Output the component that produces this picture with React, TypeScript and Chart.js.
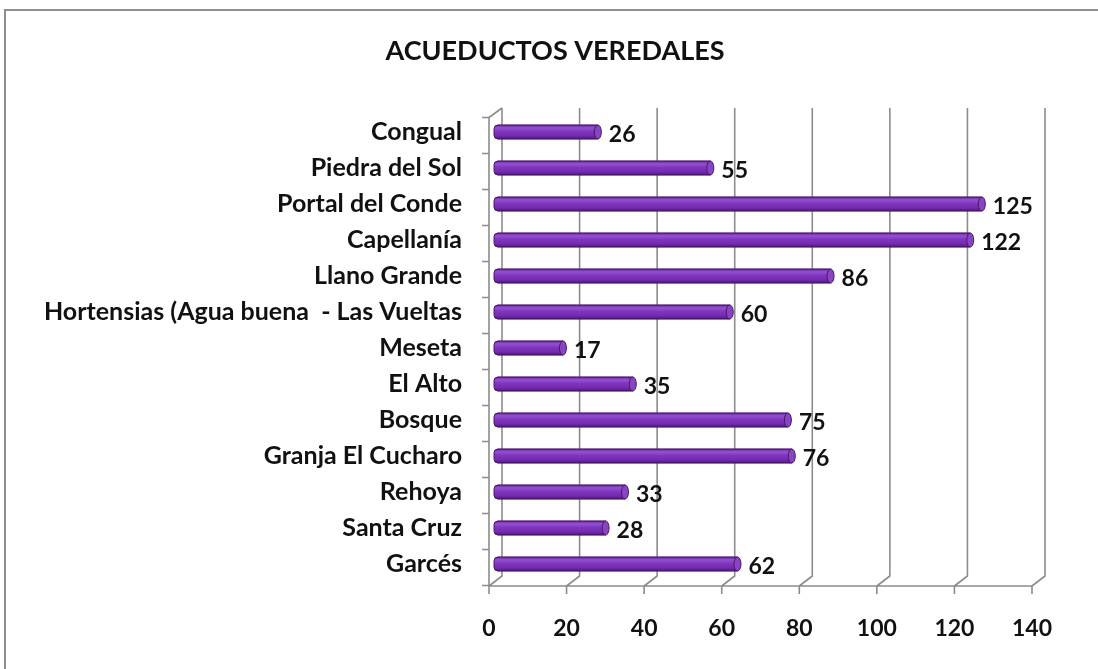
import React, { useEffect, useRef } from 'react';
import { Chart, registerables } from 'chart.js';

Chart.register(...registerables);

const chartTitle = 'ACUEDUCTOS VEREDALES';
const categories = [
  'Congual',
  'Piedra del Sol',
  'Portal del Conde',
  'Capellanía',
  'Llano Grande',
  'Hortensias (Agua buena  - Las Vueltas',
  'Meseta',
  'El Alto',
  'Bosque',
  'Granja El Cucharo',
  'Rehoya',
  'Santa Cruz',
  'Garcés',
];
const values = [26, 55, 125, 122, 86, 60, 17, 35, 75, 76, 33, 28, 62];
const xTicks = [0, 20, 40, 60, 80, 100, 120, 140];

const FONT = 'Lato, "Open Sans", "DejaVu Sans", sans-serif';
const FRONT = -8; // front-plane x offset (3D depth)
const BACK = 5; // back-plane x offset

const framePlugin = {
  id: 'frame3d',
  beforeDraw(chart: any) {
    const { ctx, width, height } = chart;
    ctx.save();
    ctx.fillStyle = '#ffffff';
    ctx.fillRect(0, 0, width, height);
    ctx.strokeStyle = '#8f8f8f';
    ctx.lineWidth = 2;
    ctx.beginPath();
    ctx.moveTo(5, height);
    ctx.lineTo(5, 10);
    ctx.lineTo(width, 10);
    ctx.stroke();
    // title
    ctx.fillStyle = '#111111';
    ctx.font = `bold 27px ${FONT}`;
    ctx.textAlign = 'center';
    ctx.textBaseline = 'middle';
    ctx.fillText(chartTitle, 555, 51);
    ctx.restore();
  },
  beforeDatasetsDraw(chart: any) {
    const { ctx, chartArea: a, scales } = chart;
    const x = scales.x;
    const y = scales.y;
    const topBack = a.top - 6;
    const botBack = a.bottom - 6;
    const botFront = a.bottom + 4;
    ctx.save();
    ctx.strokeStyle = '#8c8c8c';
    ctx.lineWidth = 1.6;
    ctx.beginPath();
    xTicks.forEach((v) => {
      const px = x.getPixelForValue(v);
      ctx.moveTo(px + BACK, topBack);
      ctx.lineTo(px + BACK, botBack);
      ctx.lineTo(px + FRONT, botFront);
      ctx.moveTo(px + FRONT, botFront);
      ctx.lineTo(px + FRONT, botFront + 8);
    });
    const x0 = x.getPixelForValue(xTicks[0]);
    const xN = x.getPixelForValue(xTicks[xTicks.length - 1]);
    // front horizontal axis
    ctx.moveTo(x0 + FRONT, botFront);
    ctx.lineTo(xN + FRONT, botFront);
    // left front axis
    const yTopFront = y.getPixelForValue(-0.5) + 3.5;
    ctx.moveTo(x0 + FRONT, yTopFront);
    ctx.lineTo(x0 + FRONT, botFront);
    ctx.moveTo(x0 + FRONT, yTopFront);
    ctx.lineTo(x0 + BACK, topBack);
    for (let k = 0; k <= categories.length; k++) {
      const yy = y.getPixelForValue(k - 0.5) + 3.5;
      ctx.moveTo(x0 + FRONT - 7, yy);
      ctx.lineTo(x0 + FRONT, yy);
    }
    ctx.stroke();
    ctx.restore();
  },
  afterDatasetsDraw(chart: any) {
    const { ctx, scales } = chart;
    const meta = chart.getDatasetMeta(0);
    ctx.save();
    meta.data.forEach((el: any, i: number) => {
      const p = el.getProps(['x', 'y', 'base', 'height'], true);
      const h = p.height;
      const top = p.y - h / 2;
      const bot = p.y + h / 2;
      const left = p.base - 3;
      const r = 4;
      const g = ctx.createLinearGradient(0, top, 0, bot);
      g.addColorStop(0, '#5e2290');
      g.addColorStop(0.2, '#9652d2');
      g.addColorStop(0.45, '#8036c0');
      g.addColorStop(0.8, '#702aa9');
      g.addColorStop(1, '#4a1670');
      ctx.beginPath();
      ctx.moveTo(p.x, top);
      ctx.lineTo(left + r, top);
      ctx.quadraticCurveTo(left, top, left, top + r);
      ctx.lineTo(left, bot - r);
      ctx.quadraticCurveTo(left, bot, left + r, bot);
      ctx.lineTo(p.x, bot);
      ctx.closePath();
      ctx.fillStyle = g;
      ctx.fill();
      ctx.strokeStyle = '#4a176e';
      ctx.lineWidth = 1;
      ctx.stroke();
      // end cap
      ctx.beginPath();
      ctx.ellipse(p.x, p.y, 3.5, h / 2, 0, 0, Math.PI * 2);
      ctx.fillStyle = '#8646c2';
      ctx.fill();
      ctx.strokeStyle = '#4a176e';
      ctx.stroke();
      // value label
      ctx.fillStyle = '#111111';
      ctx.font = `bold 23px ${FONT}`;
      ctx.textAlign = 'left';
      ctx.textBaseline = 'middle';
      ctx.fillText(String(values[i]), p.x + 11, p.y + 3);
    });
    // x tick labels on the front plane
    const x = scales.x;
    ctx.fillStyle = '#111111';
    ctx.font = `bold 23px ${FONT}`;
    ctx.textAlign = 'center';
    ctx.textBaseline = 'middle';
    xTicks.forEach((v) => {
      ctx.fillText(String(v), x.getPixelForValue(v) + FRONT, 629);
    });
    ctx.restore();
  },
};

export default function App() {
  const ref = useRef<HTMLCanvasElement | null>(null);
  useEffect(() => {
    if (!ref.current) return;
    const chart = new Chart(ref.current, {
      type: 'bar',
      data: {
        labels: categories,
        datasets: [
          {
            data: values,
            backgroundColor: '#7b33b5',
            borderWidth: 0,
            barThickness: 14,
          },
        ],
      },
      options: {
        indexAxis: 'y',
        responsive: false,
        animation: false,
        layout: { padding: { top: 114, right: 58, left: 0, bottom: 0 } },
        plugins: {
          legend: { display: false },
          title: { display: false },
          tooltip: { enabled: false },
        },
        scales: {
          x: {
            min: 0,
            max: 140,
            afterBuildTicks: (s: any) => {
              s.ticks = xTicks.map((v) => ({ value: v }));
            },
            afterFit: (s: any) => {
              s.height = 87;
            },
            ticks: { display: false },
            grid: { display: false, drawTicks: false },
            border: { display: false },
          },
          y: {
            afterFit: (s: any) => {
              s.width = 497;
            },
            ticks: {
              color: '#111111',
              font: { family: FONT, size: 25, weight: 'bold' },
              padding: 35,
              autoSkip: false,
            },
            grid: { display: false, drawTicks: false },
            border: { display: false },
          },
        },
      },
      plugins: [framePlugin],
    });
    return () => chart.destroy();
  }, []);
  return (
    <div style={{ position: 'absolute', left: 0, top: 0, width: 1098, height: 669, background: '#fff' }}>
      <canvas ref={ref} width={1098} height={669} />
    </div>
  );
}
